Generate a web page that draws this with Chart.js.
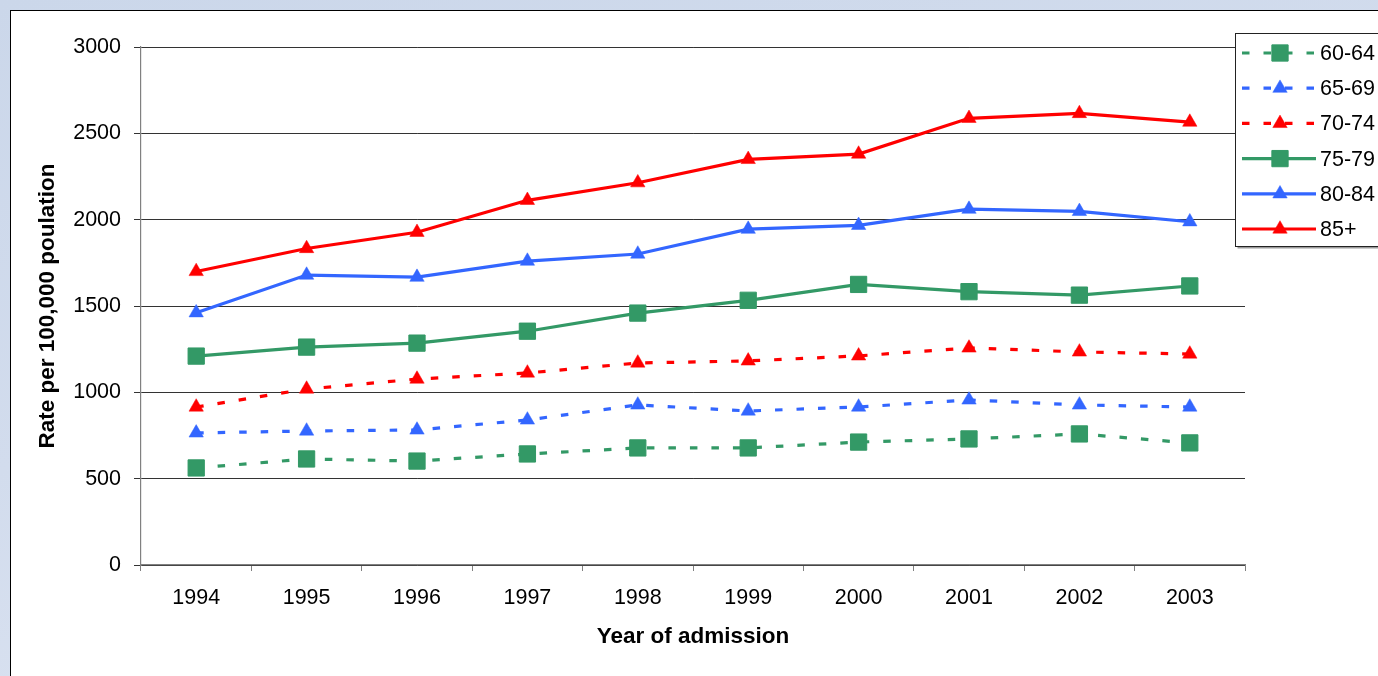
<!DOCTYPE html>
<html>
<head>
<meta charset="utf-8">
<script src="https://cdn.jsdelivr.net/npm/chart.js@4.4.1/dist/chart.umd.min.js"></script>
<style>
  html, body { margin: 0; padding: 0; width: 1378px; height: 676px; overflow: hidden; }
  body { background: linear-gradient(165deg, #CBD7EA 0%, #D2DCED 45%, #DFE6F3 100%); position: relative; }
  #panel { position: absolute; left: 9.5px; top: 9.5px; width: 1420px; height: 720px; background: #fff; border: 1.5px solid #000; }
  #chart { position: absolute; left: 0; top: 0; }
</style>
</head>
<body>
<div id="panel"></div>
<canvas id="chart" width="1378" height="676"></canvas>
<script>
// Hospital admission rates per 100,000 population, by age group
const years = ['1994', '1995', '1996', '1997', '1998', '1999', '2000', '2001', '2002', '2003'];
const age6064 = [562, 614, 602, 643, 678, 678, 712, 730, 759, 707];
const age6569 = [765, 776, 782, 840, 927, 892, 915, 956, 927, 915];
const age7074 = [915, 1019, 1077, 1112, 1170, 1182, 1211, 1257, 1234, 1222];
const age7579 = [1210, 1262, 1285, 1354, 1459, 1533, 1625, 1583, 1563, 1616];
const age8084 = [1461, 1679, 1667, 1760, 1801, 1945, 1967, 2061, 2048, 1988];
const age85plus = [1700, 1833, 1927, 2112, 2214, 2349, 2380, 2587, 2615, 2565];
const yTicks = [0, 500, 1000, 1500, 2000, 2500, 3000];

const GREEN = '#339966', BLUE = '#3366FF', RED = '#FF0000';
const FONT = '"Liberation Sans", Arial, sans-serif';
const DASH = [7.5, 14];

function series(label, data, color, style, dashed) {
  const isRect = style === 'rect';
  return {
    label, data,
    borderColor: color,
    backgroundColor: color,
    borderWidth: 3.2,
    borderDash: dashed ? DASH : [],
    tension: 0,
    pointStyle: style,
    pointRadius: isRect ? 11.5 : 8.3,
    pointBorderWidth: isRect ? 1 : 0.5,
    pointBackgroundColor: color,
    pointBorderColor: color,
    fill: false
  };
}

// Boxed legend at the upper right, drawn from the datasets' own styles
const sideLegend = {
  id: 'sideLegend',
  afterDraw(chart) {
    const ctx = chart.ctx;
    const bx = 1235.5, by = 33.5, bw = 170, bh = 213;
    ctx.save();
    ctx.fillStyle = '#9a9a9a';
    ctx.fillRect(bx + 2, by + bh, bw, 2);
    ctx.fillStyle = '#fff';
    ctx.fillRect(bx, by, bw, bh);
    ctx.strokeStyle = '#222';
    ctx.lineWidth = 1;
    ctx.strokeRect(bx, by, bw, bh);

    chart.data.datasets.forEach((ds, i) => {
      const y = 53 + i * 35.2;
      ctx.strokeStyle = ds.borderColor;
      ctx.lineWidth = ds.borderWidth;
      ctx.setLineDash(ds.borderDash || []);
      ctx.beginPath();
      ctx.moveTo(1242, y);
      ctx.lineTo(1316, y);
      ctx.stroke();
      ctx.setLineDash([]);
      ctx.fillStyle = ds.pointBackgroundColor;
      ctx.strokeStyle = ds.pointBorderColor;
      ctx.lineWidth = ds.pointBorderWidth;
      Chart.helpers.drawPoint(ctx, {
        pointStyle: ds.pointStyle,
        radius: ds.pointRadius,
        rotation: 0,
        borderWidth: ds.pointBorderWidth
      }, 1280, y);
      ctx.fillStyle = '#000';
      ctx.font = '21.5px ' + FONT;
      ctx.textAlign = 'left';
      ctx.textBaseline = 'middle';
      ctx.fillText(ds.label, 1320, y + 1);
    });
    ctx.restore();
  }
};

new Chart(document.getElementById('chart'), {
  type: 'line',
  data: {
    labels: years,
    datasets: [
      series('60-64', age6064, GREEN, 'rect', true),
      series('65-69', age6569, BLUE, 'triangle', true),
      series('70-74', age7074, RED, 'triangle', true),
      series('75-79', age7579, GREEN, 'rect', false),
      series('80-84', age8084, BLUE, 'triangle', false),
      series('85+', age85plus, RED, 'triangle', false)
    ]
  },
  options: {
    responsive: false,
    animation: false,
    events: [],
    layout: { padding: { top: 47, right: 133, left: 0, bottom: 0 } },
    plugins: { legend: { display: false }, tooltip: { enabled: false } },
    scales: {
      x: {
        type: 'category',
        offset: true,
        afterFit(scale) { scale.height = 111; },
        grid: { offset: true, drawOnChartArea: false, drawTicks: true, tickLength: 6, color: '#808080', lineWidth: 1 },
        border: { color: '#808080', width: 1.2 },
        ticks: { color: '#000', font: { family: FONT, size: 21.5 }, padding: 14, maxRotation: 0 },
        title: { display: true, text: 'Year of admission', color: '#000', font: { family: FONT, size: 22.5, weight: 'bold', lineHeight: 1.2 }, padding: { top: 0, bottom: 25.5 } }
      },
      y: {
        min: 0, max: 3000,
        afterFit(scale) { scale.width = 141; },
        afterBuildTicks(scale) { scale.ticks = yTicks.map(v => ({ value: v })); },
        grid: { color: '#333', lineWidth: 1, tickLength: 7, tickColor: '#333' },
        border: { color: '#808080', width: 1.2 },
        ticks: { color: '#000', font: { family: FONT, size: 21.5 }, padding: 13, callback: v => String(v) },
        title: { display: true, text: 'Rate per 100,000 poulation', color: '#000', font: { family: FONT, size: 22.5, weight: 'bold', lineHeight: 1.2 }, padding: { top: 34.5, bottom: 0 } }
      }
    }
  },
  plugins: [sideLegend]
});
</script>
</body>
</html>
